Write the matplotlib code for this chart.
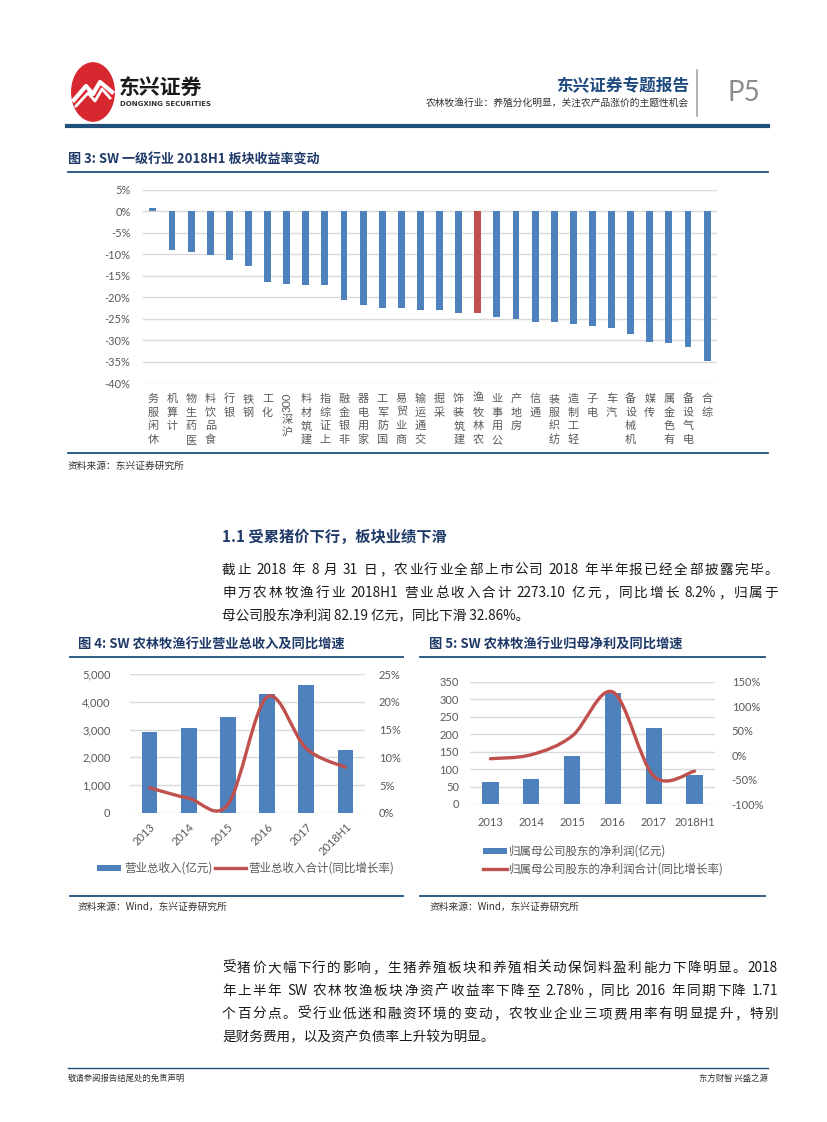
import matplotlib
matplotlib.use('Agg')
import matplotlib.pyplot as plt
import numpy as np
import re
from matplotlib.path import Path
from matplotlib.patches import PathPatch, Circle, Rectangle
from matplotlib.lines import Line2D
from matplotlib.transforms import blended_transform_factory

plt.rcParams['font.family'] = ['Noto Sans CJK SC', 'DejaVu Sans']

# ---------------- data ----------------
industries = ['休闲服务', '计算机', '医药生物', '食品饮料', '银行', '钢铁', '化工', '沪深300',
              '建筑材料', '上证综指', '非银金融', '家用电器', '国防军工', '商业贸易', '交通运输',
              '采掘', '建筑装饰', '农林牧渔', '公用事业', '房地产', '通信', '纺织服装', '轻工制造',
              '电子', '汽车', '机械设备', '传媒', '有色金属', '电气设备', '综合']
returns = [0.8, -8.9, -9.4, -10.1, -11.3, -12.7, -16.4, -16.9, -17.1, -17.1, -20.7, -21.9,
           -22.6, -22.6, -23.0, -22.9, -23.6, -23.6, -24.6, -25.1, -25.7, -25.7, -26.3,
           -26.8, -27.1, -28.5, -30.4, -30.6, -31.6, -34.9]
highlight = '农林牧渔'
ret_ticks = [5, 0, -5, -10, -15, -20, -25, -30, -35, -40]

years = ['2013', '2014', '2015', '2016', '2017', '2018H1']
revenue = [2903, 3047, 3466, 4274, 4599, 2273.10]
revenue_growth = [4.5, 2.6, 1.5, 20.9, 11.6, 8.2]
profit = [62, 70.6, 136.5, 316.8, 216.6, 82.19]
profit_growth = [-7.4, 0.7, 38.9, 128.8, -43.0, -32.86]

BLUE = '#4F81BD'
RED = '#C0504D'
NAVY = '#1F3A68'
GRID = '#D9D9D9'
TICK = '#595959'

W, H = 827, 1122
fig = plt.figure(figsize=(W / 100, H / 100), dpi=100)
renderer = fig.canvas.get_renderer()


def add_ax(x0, y0, x1, y1):
    return fig.add_axes([x0 / W, 1 - y1 / H, (x1 - x0) / W, (y1 - y0) / H])


def T(x, y, s, **kw):
    kw.setdefault('va', 'center')
    return fig.text(x / W, 1 - y / H, s, **kw)


def HL(x0, x1, y, **kw):
    fig.add_artist(Line2D([x0 / W, x1 / W], [1 - y / H, 1 - y / H],
                          transform=fig.transFigure, **kw))


def VL(x, y0, y1, **kw):
    fig.add_artist(Line2D([x / W, x / W], [1 - y0 / H, 1 - y1 / H],
                          transform=fig.transFigure, **kw))


def text_width(s, **kw):
    t = fig.text(0, 0, s, **kw)
    w = t.get_window_extent(renderer).width
    t.remove()
    return w


def justify(x0, x1, y, s, **kw):
    raw = re.findall(r'[A-Za-z0-9.%]+|.', s)
    space_w = kw.get('fontsize', 10) * 100 / 72 * 0.3
    items = []  # [token, width, trailing_space]
    for tok in raw:
        if tok == ' ':
            if items:
                items[-1][2] += space_w
        else:
            items.append([tok, text_width(tok, **kw), 0.0])
    total = sum(w + sp for _, w, sp in items[:-1]) + items[-1][1]
    extra = (x1 - x0 - total) / max(len(items) - 1, 1)
    xx = x0
    for tok, w, sp in items:
        T(xx, y, tok, ha='left', **kw)
        xx += w + sp + extra


def smooth_line(ax, xs, ys, color, lw):
    pts = np.column_stack([xs, ys]).astype(float)
    n = len(pts)
    verts = [pts[0]]
    codes = [Path.MOVETO]
    for i in range(n - 1):
        p0 = pts[i - 1] if i > 0 else pts[i]
        p1 = pts[i]
        p2 = pts[i + 1]
        p3 = pts[i + 2] if i + 2 < n else pts[i + 1]
        verts += [p1 + (p2 - p0) / 6, p2 - (p3 - p1) / 6, p2]
        codes += [Path.CURVE4] * 3
    ax.add_patch(PathPatch(Path(verts, codes), facecolor='none', edgecolor=color,
                           lw=lw, capstyle='round', joinstyle='round', zorder=5))


def clean(ax):
    for s in ax.spines.values():
        s.set_visible(False)
    ax.tick_params(length=0)
    ax.patch.set_alpha(0)


# ---------------- header ----------------
fig.add_artist(Circle((93 / W, 1 - 92 / H), 22 / W, transform=fig.transFigure,
                      facecolor='#D7282F', edgecolor='none'))
fig.add_artist(Line2D(np.array([74, 86, 93, 100, 112]) / W,
                      1 - np.array([100, 86, 94, 82, 92]) / H,
                      transform=fig.transFigure, color='white', lw=3))
fig.add_artist(Line2D(np.array([76, 88, 95, 102, 110]) / W,
                      1 - np.array([106, 93, 101, 89, 98]) / H,
                      transform=fig.transFigure, color='white', lw=2))
T(119, 87, '东兴证券', fontsize=15, fontweight='bold', color='#1A1A1A', ha='left')
T(120, 104, 'DONGXING SECURITIES', fontsize=5, fontweight='bold', color='#333333',
  ha='left', family=['DejaVu Sans'])
T(689, 86, '东兴证券专题报告', fontsize=12, fontweight='bold', color='#1F4A7E', ha='right')
T(689, 103, '农林牧渔行业：养殖分化明显，关注农产品涨价的主题性机会', fontsize=7,
  color='#333333', ha='right')
VL(697, 70, 116, color='#A6A6A6', lw=1.2)
T(728, 93, 'P5', fontsize=20, color='#8C8C8C', ha='left', family=['Lato', 'DejaVu Sans'])
HL(67, 768, 125.5, color='#1F4E79', lw=3)

# ---------------- chart 3 ----------------
T(68, 160, '图 3: SW 一级行业 2018H1 板块收益率变动', fontsize=9.4, fontweight='bold',
  color=NAVY, ha='left')
HL(68, 768, 172, color='#1F4E79', lw=1.3)

ax1 = add_ax(143, 190, 717, 383)
x = np.arange(len(industries))
colors = [RED if n == highlight else BLUE for n in industries]
ax1.bar(x, returns, width=0.36, color=colors, zorder=3)
ax1.set_xlim(-0.52, len(industries) - 0.48)
ax1.set_ylim(-40, 5)
ax1.set_yticks(ret_ticks)
ax1.set_yticklabels([f'{v}%' for v in ret_ticks], color=TICK, fontsize=8,
                    family=['Lato', 'DejaVu Sans'])
ax1.yaxis.grid(True, color=GRID, lw=1, zorder=0)
ax1.set_xticks([])
clean(ax1)
ax1.tick_params(axis='y', pad=9)

trans = blended_transform_factory(ax1.transData, fig.transFigure)
pitch = 13.6 / H
top = 1 - 399 / H
for i, name in enumerate(industries):
    tokens = re.findall(r'[0-9]+|.', name)
    yy = top
    for tok in reversed(tokens):
        if tok.isdigit():
            h = 6.4 * len(tok) / H
            fig.text(i, yy + 6 / H - h / 2, tok, transform=trans, rotation=90, ha='center',
                     va='center', fontsize=8, color=TICK, family=['Lato', 'DejaVu Sans'])
            yy -= h + 2 / H
        else:
            fig.text(i, yy, tok, transform=trans, ha='center', va='center', fontsize=8,
                     color=TICK)
            yy -= pitch

HL(68, 768, 453, color='#1F4E79', lw=1.3)
T(68, 466, '资料来源：东兴证券研究所', fontsize=7, color='#333333', ha='left', style='italic')

# ---------------- section text ----------------
T(222, 537, '1.1 受累猪价下行，板块业绩下滑', fontsize=11, fontweight='bold', color=NAVY,
  ha='left')
BODY = dict(fontsize=9.8, color='#1A1A1A')
para1 = ['截止 2018 年 8 月 31 日，农业行业全部上市公司 2018 年半年报已经全部披露完毕。',
         '申万农林牧渔行业 2018H1 营业总收入合计 2273.10 亿元，同比增长 8.2%，归属于',
         '母公司股东净利润 82.19 亿元，同比下滑 32.86%。']
for k, line in enumerate(para1):
    if k < len(para1) - 1:
        justify(222, 778, 570 + k * 23, line, **BODY)
    else:
        T(222, 570 + k * 23, line, ha='left', **BODY)

# ---------------- chart 4 ----------------
T(78, 645, '图 4: SW 农林牧渔行业营业总收入及同比增速', fontsize=9.5, fontweight='bold',
  color=NAVY, ha='left')
HL(70, 403, 657, color='#1F4E79', lw=1.3)

ax4 = add_ax(130, 674.3, 365, 812.7)
xi = np.arange(len(years))
ax4.bar(xi, revenue, width=0.4, color=BLUE, zorder=3)
ax4.set_xlim(-0.5, 5.5)
ax4.set_ylim(0, 5000)
ax4.set_yticks(range(0, 5001, 1000))
ax4.set_yticklabels([f'{v:,}' for v in range(0, 5001, 1000)], color=TICK, fontsize=8,
                    family=['Lato', 'DejaVu Sans'])
ax4.yaxis.grid(True, color=GRID, lw=1, zorder=0)
ax4.set_xticks(xi)
ax4.set_xticklabels(years, rotation=45, ha='right', va='top', rotation_mode='anchor',
                    color=TICK, fontsize=8, family=['Lato', 'DejaVu Sans'])
clean(ax4)
ax4.tick_params(axis='y', pad=14)
ax4.tick_params(axis='x', pad=6)
ax4b = ax4.twinx()
ax4b.set_ylim(0, 25)
ax4b.set_yticks(range(0, 26, 5))
ax4b.set_yticklabels([f'{v}%' for v in range(0, 26, 5)], color=TICK, fontsize=8,
                     family=['Lato', 'DejaVu Sans'])
clean(ax4b)
ax4b.tick_params(axis='y', pad=10)
smooth_line(ax4b, xi, revenue_growth, RED, 2.4)

fig.add_artist(Rectangle((97 / W, 1 - 871 / H), 24 / W, 6 / H, transform=fig.transFigure,
                         facecolor=BLUE, edgecolor='none'))
T(124, 868, '营业总收入(亿元)', fontsize=8.3, color=TICK, ha='left')
HL(215, 246, 868, color=RED, lw=2.4)
T(248, 868, '营业总收入合计(同比增长率)', fontsize=8.3, color=TICK, ha='left')

HL(70, 403, 896, color='#1F4E79', lw=1.3)
T(78, 907, '资料来源：Wind，东兴证券研究所', fontsize=7, color='#333333', ha='left',
  style='italic')

# ---------------- chart 5 ----------------
T(429, 645, '图 5: SW 农林牧渔行业归母净利及同比增速', fontsize=9.5, fontweight='bold',
  color=NAVY, ha='left')
HL(420, 765, 657, color='#1F4E79', lw=1.3)

ax5 = add_ax(470, 681.7, 715, 804)
ax5.bar(xi, profit, width=0.4, color=BLUE, zorder=3)
ax5.set_xlim(-0.5, 5.5)
ax5.set_ylim(0, 350)
ax5.set_yticks(range(0, 351, 50))
ax5.set_yticklabels([str(v) for v in range(0, 351, 50)], color=TICK, fontsize=8,
                    family=['Lato', 'DejaVu Sans'])
ax5.yaxis.grid(True, color=GRID, lw=1, zorder=0)
ax5.set_xticks(xi)
ax5.set_xticklabels(years, color=TICK, fontsize=8, family=['Lato', 'DejaVu Sans'])
clean(ax5)
ax5.tick_params(axis='y', pad=8)
ax5.tick_params(axis='x', pad=9)
ax5b = ax5.twinx()
ax5b.set_ylim(-100, 150)
ax5b.set_yticks(range(-100, 151, 50))
ax5b.set_yticklabels([f'{v}%' for v in range(-100, 151, 50)], color=TICK, fontsize=8,
                     family=['Lato', 'DejaVu Sans'])
clean(ax5b)
ax5b.tick_params(axis='y', pad=12)
smooth_line(ax5b, xi, profit_growth, RED, 2.4)

fig.add_artist(Rectangle((483 / W, 1 - 854 / H), 24 / W, 6 / H, transform=fig.transFigure,
                         facecolor=BLUE, edgecolor='none'))
T(509, 851, '归属母公司股东的净利润(亿元)', fontsize=8.3, color=TICK, ha='left')
HL(483, 507, 869, color=RED, lw=2.4)
T(509, 869, '归属母公司股东的净利润合计(同比增长率)', fontsize=8.3, color=TICK, ha='left')

HL(420, 765, 896, color='#1F4E79', lw=1.3)
T(430, 907, '资料来源：Wind，东兴证券研究所', fontsize=7, color='#333333', ha='left',
  style='italic')

# ---------------- paragraph 2 ----------------
para2 = ['受猪价大幅下行的影响，生猪养殖板块和养殖相关动保饲料盈利能力下降明显。2018',
         '年上半年 SW 农林牧渔板块净资产收益率下降至 2.78%，同比 2016 年同期下降 1.71',
         '个百分点。受行业低迷和融资环境的变动，农牧业企业三项费用率有明显提升，特别',
         '是财务费用，以及资产负债率上升较为明显。']
for k, line in enumerate(para2):
    if k < len(para2) - 1:
        justify(222, 778, 968 + k * 23, line, **BODY)
    else:
        T(222, 968 + k * 23, line, ha='left', **BODY)

# ---------------- footer ----------------
HL(68, 768, 1068, color='#1F4E79', lw=1)
T(68, 1078, '敬请参阅报告结尾处的免责声明', fontsize=6, color='#333333', ha='left')
T(768, 1078, '东方财智 兴盛之源', fontsize=6, color='#333333', ha='right')

fig.savefig('out.png', dpi=100)
